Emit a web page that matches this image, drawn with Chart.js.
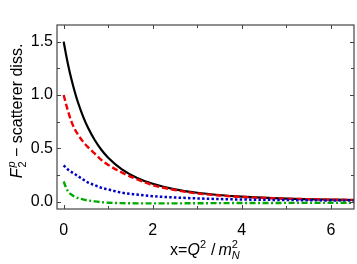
<!DOCTYPE html>
<html>
<head>
<meta charset="utf-8">
<script src="https://cdn.jsdelivr.net/npm/chart.js@4"></script>
<style>
  body { margin: 0; background: #fff; }
  canvas { display: block; }
</style>
</head>
<body>
<canvas id="chart" width="357" height="264"></canvas>
<script>
// x = Q^2 / m_N^2
const xs = [0, 0.05, 0.1, 0.17, 0.25, 0.32, 0.45, 0.55, 0.7, 0.85, 1.0, 1.3, 1.65, 2.0, 2.5, 3.0, 3.5, 4.0, 5.0, 6.0, 6.52];

const total = [1.5, 1.385, 1.282, 1.154, 1.028, 0.932, 0.783, 0.69, 0.576, 0.485, 0.413, 0.306, 0.223, 0.168, 0.116, 0.084, 0.063, 0.048, 0.03, 0.02, 0.0165];
const redCurve = [1.0, 0.92, 0.845, 0.755, 0.68, 0.63, 0.555, 0.51, 0.45, 0.39, 0.345, 0.275, 0.21, 0.155, 0.11, 0.078, 0.059, 0.045, 0.029, 0.02, 0.017];
const blueCurve = [0.34, 0.32, 0.3, 0.28, 0.26, 0.24, 0.205, 0.18, 0.155, 0.13, 0.115, 0.085, 0.067, 0.052, 0.04, 0.031, 0.025, 0.021, 0.016, 0.012, 0.011];
const greenCurve = [0.19, 0.135, 0.095, 0.068, 0.047, 0.035, 0.02, 0.012, 0.003, -0.004, -0.009, -0.013, -0.015, -0.015, -0.015, -0.014, -0.013, -0.012, -0.011, -0.01, -0.009];

const xTicks = [0, 2, 4, 6];
const xMinor = [1, 3, 5];
const yTicks = [0, 0.5, 1.0, 1.5];
const yMinor = [0.25, 0.75, 1.25];

const pts = arr => xs.map((x, i) => ({ x: x, y: arr[i] }));

const FONT = "'Liberation Sans', Arial, sans-serif";

// draws a row of text pieces (some raised / lowered), centred on x
function drawPieces(ctx, pieces, x, y) {
  let w = 0;
  pieces.forEach(p => {
    ctx.font = p.font;
    p.w = ctx.measureText(p.t).width;
    if (!p.stack) w += p.w + (p.gap || 0);
  });
  let cx = x - w / 2;
  let last = 0;
  pieces.forEach(p => {
    ctx.font = p.font;
    if (p.stack) {
      ctx.fillText(p.t, cx - last, y + (p.dy || 0));
      return;
    }
    ctx.fillText(p.t, cx, y + (p.dy || 0));
    cx += p.w + (p.gap || 0);
    last = p.w + (p.gap || 0);
  });
}

const framePlugin = {
  id: "frame",
  afterDraw(chart) {
    const ctx = chart.ctx;
    const a = chart.chartArea;
    const xs_ = chart.scales.x, ys_ = chart.scales.y;
    ctx.save();
    ctx.strokeStyle = "#444";
    ctx.lineWidth = 1.2;
    ctx.strokeRect(a.left, a.top, a.right - a.left, a.bottom - a.top);
    ctx.lineWidth = 1;
    ctx.beginPath();
    const tick = (vals, len) => {
      vals.forEach(v => {
        const px = Math.round(xs_.getPixelForValue(v)) + 0.5;
        ctx.moveTo(px, a.bottom); ctx.lineTo(px, a.bottom - len);
        ctx.moveTo(px, a.top); ctx.lineTo(px, a.top + len);
      });
    };
    const ytick = (vals, len) => {
      vals.forEach(v => {
        const py = Math.round(ys_.getPixelForValue(v)) + 0.5;
        ctx.moveTo(a.left, py); ctx.lineTo(a.left + len, py);
        ctx.moveTo(a.right, py); ctx.lineTo(a.right - len, py);
      });
    };
    tick(xTicks, 4); tick(xMinor, 3);
    ytick(yTicks, 4); ytick(yMinor, 3);
    ctx.stroke();

    // axis titles
    ctx.fillStyle = "#000";
    ctx.textBaseline = "alphabetic";
    ctx.textAlign = "left";
    drawPieces(ctx, [
      { t: "x=", font: "16px " + FONT },
      { t: "Q", font: "italic 16px " + FONT },
      { t: "2", font: "11px " + FONT, dy: -7, gap: 5 },
      { t: "/", font: "16px " + FONT, gap: 3 },
      { t: "m", font: "italic 16px " + FONT },
      { t: "2", font: "11px " + FONT, dy: -7 },
      { t: "N", font: "italic 11px " + FONT, dy: 4, stack: true }
    ], 204, 255);

    ctx.translate(21.5, 111);
    ctx.rotate(-Math.PI / 2);
    drawPieces(ctx, [
      { t: "F", font: "italic 16px " + FONT, gap: 1 },
      { t: "p", font: "italic 11px " + FONT, dy: -7 },
      { t: "2", font: "11px " + FONT, dy: 4, stack: true },
      { t: " \u2212 scatterer diss.", font: "16px " + FONT }
    ], 0, 0);
    ctx.restore();
  }
};

const line = (label, arr, color, dash, width, order) => ({
  label: label,
  data: pts(arr),
  borderColor: color,
  borderWidth: width,
  borderDash: dash,
  pointRadius: 0,
  cubicInterpolationMode: "monotone",
  fill: false,
  order: order
});

new Chart(document.getElementById("chart"), {
  type: "line",
  data: {
    datasets: [
      line("total", total, "#000", [], 2.2, 4),
      line("red", redCurve, "rgb(240,0,0)", [6, 3], 2.4, 3),
      line("blue", blueCurve, "rgb(0,0,200)", [2.5, 2.2], 2.5, 2),
      line("green", greenCurve, "rgb(0,170,0)", [6, 2.5, 2, 2.5], 2.4, 1)
    ]
  },
  options: {
    responsive: false,
    animation: false,
    devicePixelRatio: 1,
    layout: { padding: { top: 25, right: 3, left: 0, bottom: 0 } },
    plugins: { legend: { display: false }, tooltip: { enabled: false } },
    scales: {
      x: {
        type: "linear",
        min: -0.15,
        max: 6.52,
        grid: { display: false, drawTicks: false },
        border: { display: false },
        ticks: {
          stepSize: 2,
          includeBounds: false,
          padding: 12,
          color: "#000",
          font: { family: FONT, size: 16 },
          maxRotation: 0,
          callback: v => String(v)
        },
        afterFit: s => { s.height = 55; }
      },
      y: {
        min: -0.068,
        max: 1.656,
        grid: { display: false, drawTicks: false },
        border: { display: false },
        ticks: {
          stepSize: 0.5,
          includeBounds: false,
          padding: 4,
          color: "#000",
          font: { family: FONT, size: 16 },
          callback: v => v.toFixed(1)
        },
        afterFit: s => { s.width = 57; }
      }
    }
  },
  plugins: [framePlugin]
});
</script>
</body>
</html>
